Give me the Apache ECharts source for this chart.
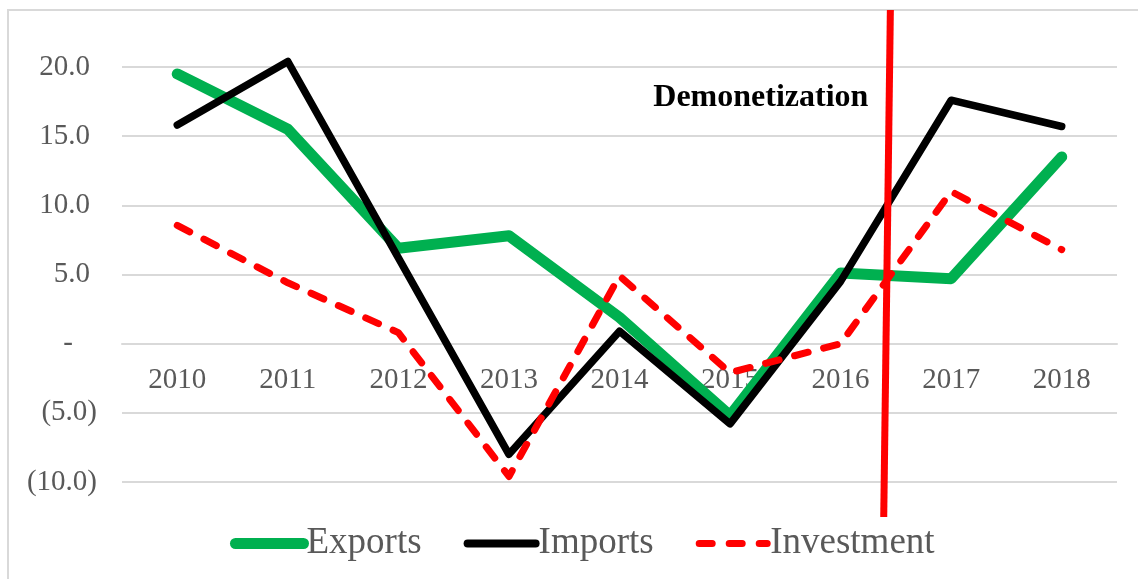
<!DOCTYPE html>
<html>
<head>
<meta charset="utf-8">
<script src="https://cdn.jsdelivr.net/npm/echarts@6/dist/echarts.min.js"></script>
<style>html,body{margin:0;padding:0;background:#fff}#c{width:1138px;height:579px}</style>
</head>
<body>
<div id="c"></div>
<script>
const years = ['2010','2011','2012','2013','2014','2015','2016','2017','2018'];
const exportsData = [19.5, 15.5, 6.9, 7.8, 1.9, -5.2, 5.1, 4.7, 13.5];
const importsData = [15.8, 20.4, 6.2, -8.0, 0.9, -5.8, 4.5, 17.6, 15.7];
const investmentData = [8.55, 4.4, 0.8, -9.6, 4.9, -2.1, 0.0, 11.0, 6.8];
const seriesNames = ['Exports', 'Imports', 'Investment'];
const annotationText = 'Demonetization';
const demoFromYear = '2016', demoToYear = '2017';
const demoFracTop = 0.45, demoFracBottom = 0.39;

const FONT = 'Liberation Serif';
const Y_MIN = -10, Y_MAX = 20;
const chart = echarts.init(document.getElementById('c'), null, {renderer: 'canvas'});

function yFmt(v) {
  if (v === 0) return '{z|-}';
  if (v < 0) return '(' + Math.abs(v).toFixed(1) + ')';
  return '{p|' + v.toFixed(1) + '}';
}

const GRID = {left: 122, right: 21, top: 67, bottom: 97};
const plotH = 579 - GRID.top - GRID.bottom;
const zeroOffset = -plotH * (0 - Y_MIN) / (Y_MAX - Y_MIN);

const colors = ['#00B050', '#000000', '#FF0000'];
const widths = [11, 7.5, 7];

chart.setOption({
  animation: false,
  backgroundColor: '#fff',
  grid: GRID,
  xAxis: {
    type: 'category',
    data: years,
    boundaryGap: true,
    position: 'bottom',
    offset: zeroOffset,
    axisLine: {onZero: false, lineStyle: {color: '#d9d9d9', width: 2}},
    axisTick: {show: false},
    axisLabel: {color: '#595959', fontFamily: FONT, fontSize: 29, margin: 22}
  },
  yAxis: {
    type: 'value',
    min: Y_MIN, max: Y_MAX, interval: 5,
    axisLine: {show: false},
    axisTick: {show: false},
    splitLine: {lineStyle: {color: '#d9d9d9', width: 2}},
    axisLabel: {
      color: '#595959', fontFamily: FONT, fontSize: 29, margin: 25,
      formatter: yFmt,
      rich: {
        p: {color: '#595959', fontFamily: FONT, fontSize: 29, padding: [0, 7, 0, 0]},
        z: {color: '#595959', fontFamily: FONT, fontSize: 29, padding: [0, 24, 0, 0]}
      }
    }
  },
  legend: {
    left: 230, top: 525, padding: 0,
    itemWidth: 68, itemHeight: 22, itemGap: 42,
    itemStyle: {opacity: 0},
    textStyle: {color: '#595959', fontFamily: FONT, fontSize: 37, padding: [0, 0, 0, -2]},
    data: seriesNames.map((n, i) => ({
      name: n,
      itemStyle: {opacity: 0},
      lineStyle: {width: i === 0 ? 11 : (i === 1 ? 8 : 7), cap: 'round', color: colors[i],
                  type: i === 2 ? [13, 17] : 'solid'}
    }))
  },
  series: [
    {
      name: seriesNames[0], type: 'line', data: exportsData, symbol: 'none', showSymbol: false, clip: false,
      lineStyle: {color: colors[0], width: widths[0], cap: 'round', join: 'round'},
      itemStyle: {color: colors[0]}, z: 2
    },
    {
      name: seriesNames[1], type: 'line', data: importsData, symbol: 'none', showSymbol: false, clip: false,
      lineStyle: {color: colors[1], width: widths[1], cap: 'round', join: 'round'},
      itemStyle: {color: colors[1]}, z: 3
    },
    {
      name: seriesNames[2], type: 'line', data: investmentData, symbol: 'none', showSymbol: false, clip: false,
      lineStyle: {color: colors[2], width: widths[2], type: [14, 16], cap: 'round', join: 'round'},
      itemStyle: {color: colors[2]}, z: 4
    }
  ]
});

const xa = chart.convertToPixel({xAxisIndex: 0}, demoFromYear);
const xb = chart.convertToPixel({xAxisIndex: 0}, demoToYear);
const xTop = xa + demoFracTop * (xb - xa);
const xBot = xa + demoFracBottom * (xb - xa);
chart.setOption({
  graphic: [
    {type: 'rect', shape: {x: 8, y: 10, width: 1150, height: 600},
     style: {fill: 'none', stroke: '#d9d9d9', lineWidth: 2}, z: -10, silent: true},
    {type: 'line', shape: {x1: xTop, y1: 10, x2: xBot, y2: 517},
     style: {stroke: '#FF0000', lineWidth: 7}, z: 100},
    {type: 'text', x: xTop - 22, y: 98,
     style: {text: annotationText, fontFamily: FONT, fontWeight: 'bold', fontSize: 32,
             fill: '#000', align: 'right', verticalAlign: 'middle'}, z: 100}
  ]
});
</script>
</body>
</html>
